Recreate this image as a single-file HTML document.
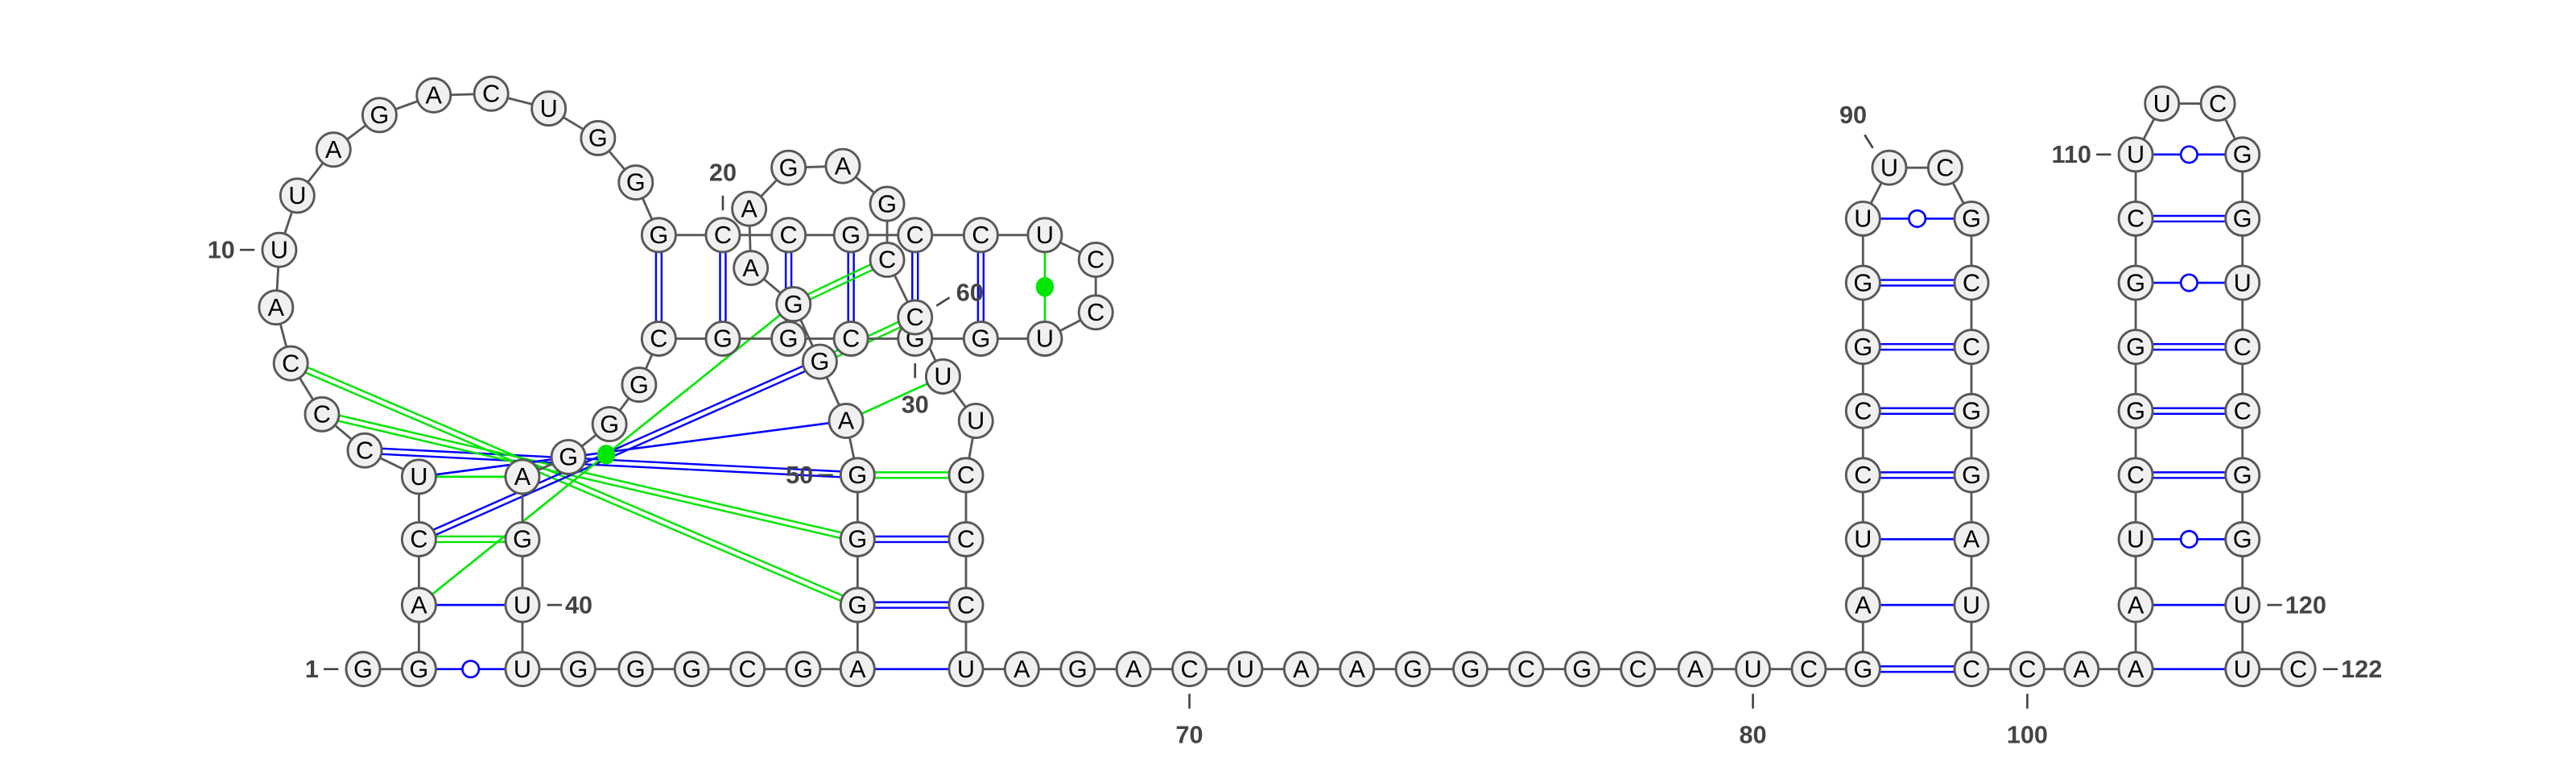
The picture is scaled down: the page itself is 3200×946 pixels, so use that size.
<!DOCTYPE html>
<html><head><meta charset="utf-8"><style>
html,body{margin:0;padding:0;background:#fff;}
svg{display:block;}
text{font-family:"Liberation Sans",sans-serif;}
</style></head><body>
<svg id="chart" width="3200" height="946" viewBox="0 0 1568 463.5" preserveAspectRatio="none" xmlns="http://www.w3.org/2000/svg">
<g id="pairs"></g>
<g id="backbone"></g>
<g id="symbols"></g>
<g id="nts"></g>
<g id="labels"></g>
</svg>
<script>
const seq = ["G","G","A","C","U","C","C","C","A","U",
 "U","A","G","A","C","U","G","G","G","C",
 "C","G","C","C","U","C","C","U","G","G",
 "C","G","G","C","G","G","G","A","G","U",
 "U","G","G","G","C","G","A","G","G","G",
 "A","G","G","A","A","G","A","G","C","C",
 "U","U","C","C","C","U","A","G","A","C",
 "U","A","A","G","G","C","G","C","A","U",
 "C","G","A","U","C","C","G","G","U","U",
 "C","G","C","C","G","G","A","U","C","C",
 "A","A","A","U","C","G","G","G","C","U",
 "U","C","G","G","U","C","C","G","G","U",
 "U","C"];
const xs = [221,255,255,255,255,222,196,177,168,170,181,203,231,264,299,334,364,387,401,440,480,518,557,597,636,667,667,636,597,557,518,480,440,401,389,371,346,318,318,318,318,352,387,421,455,489,522,522,522,522,515,499,483,457,456,480,513,540,540,557,574,594,588,588,588,588,622,656,690,724,758,792,826,860,895,929,963,997,1032,1067,1101,1134,1134,1134,1134,1134,1134,1134,1134,1150,1184,1200,1200,1200,1200,1200,1200,1200,1200,1234,1267,1300,1300,1300,1300,1300,1300,1300,1300,1300,1316,1350,1365,1365,1365,1365,1365,1365,1365,1365,1365,1399];
const ys = [407,407,368,328,290,274,252,221,187,152,119,91,70,58,57,66,84,111,143,143,143,143,143,143,143,158,190,206,206,206,206,206,206,206,234,258,278,290,328,368,407,407,407,407,407,407,407,368,328,289,256,220,185,163,127,102,101,124,158,193,229,256,289,328,368,407,407,407,407,407,407,407,407,407,407,407,407,407,407,407,407,407,368,328,289,250,211,172,133,102,102,133,172,211,250,289,328,368,407,407,407,407,368,328,289,250,211,172,133,94,63,63,94,133,172,211,250,289,328,368,407,407];
const pairI = [82,83,84,85,86,87,88,89, 102,103,104,105,106,107,108,109,110, 2,3,4,5,47,48,49,50, 19,20,21,22,23,24,25, 6,7,8,4,5,3,51,53,52];
const pairJ = [99,98,97,96,95,94,93,92, 121,120,119,118,117,116,115,114,113, 41,40,39,38,66,65,64,63, 34,33,32,31,30,29,28, 50,49,48,52,51,53,61,59,60];
const pairC = ["b","b","b","b","b","b","b","b", "b","b","b","b","b","b","b","b","b", "b","b","g","g","b","b","b","g", "b","b","b","b","b","b","g", "b","g","g","b","b","g","g","g","g"];
const pairT = ["2","1","1","2","2","2","2","o", "1","1","o","2","2","2","o","2","o", "o","1","2","1","1","2","2","2", "2","2","2","2","2","2","d", "2","2","2","2","1","d","1","2","2"];
const labelNums = [1,10,20,30,40,50,60,70,80,90,100,110,120,122];
const labelDir = ["l","l","u","d","r","l","ur","d","d","ul","d","l","r","r"];

const NS="http://www.w3.org/2000/svg";
const R=10.3;
function mk(tag,attrs,parent){const e=document.createElementNS(NS,tag);for(const k in attrs)e.setAttribute(k,attrs[k]);parent.appendChild(e);return e;}
const gP=document.getElementById('pairs'),gB=document.getElementById('backbone'),gS=document.getElementById('symbols'),gN=document.getElementById('nts'),gL=document.getElementById('labels');
const col={b:"#0000ff",g:"#00e600"};
for(let k=0;k<pairI.length;k++){
  const a=pairI[k]-1,b=pairJ[k]-1;
  const x1=xs[a],y1=ys[a],x2=xs[b],y2=ys[b];
  const dx=x2-x1,dy=y2-y1,L=Math.hypot(dx,dy),nx=-dy/L,ny=dx/L;
  const c=col[pairC[k]];
  if(pairT[k]==="2"){
    for(const s of [-1.7,1.7]){
      const l=mk('line',{x1:x1+nx*s,y1:y1+ny*s,x2:x2+nx*s,y2:y2+ny*s,stroke:c,'stroke-width':1.2},gP);
      
      
    }
  } else {
    const l=mk('line',{x1:x1,y1:y1,x2:x2,y2:y2,stroke:c,'stroke-width':1.3},gP);
    
    
    const mx=(x1+x2)/2,my=(y1+y2)/2;
    if(pairT[k]==="o"){
      const s=mk('circle',{cx:mx,cy:my,r:5,fill:"#fff",stroke:c,'stroke-width':1.3},gS);
      
      
    } else if(pairT[k]==="d"){
      const s=mk('ellipse',{cx:mx,cy:my,rx:5.5,ry:6,fill:c},gS);
      
      
    }
  }
}
for(let i=0;i<seq.length-1;i++){
  const l=mk('line',{x1:xs[i],y1:ys[i],x2:xs[i+1],y2:ys[i+1],stroke:"#585858",'stroke-width':1.4},gB);
  
  
}
for(let i=0;i<seq.length;i++){
  const g=mk('g',{},gN);
  
  
  mk('circle',{cx:xs[i],cy:ys[i],r:R,fill:"#f0f0f0",stroke:"#585858",'stroke-width':1.4},g);
  const t=mk('text',{x:xs[i],y:ys[i]+5,'text-anchor':'middle','font-size':15,fill:"#000"},g);
  t.textContent=seq[i];
}
for(let k=0;k<labelNums.length;k++){
  const i=labelNums[k]-1,x=xs[i],y=ys[i],d=labelDir[k];
  let t1,t2,tx,ty,anc;
  if(d==="l"){t1=[x-24,y];t2=[x-15,y];tx=x-27;ty=y+5;anc="end";}
  else if(d==="r"){t1=[x+15,y];t2=[x+24,y];tx=x+26;ty=y+5;anc="start";}
  else if(d==="u"){t1=[x,y-15];t2=[x,y-24];tx=x;ty=y-33;anc="middle";}
  else if(d==="d"){t1=[x,y+15];t2=[x,y+24];tx=x;ty=y+45;anc="middle";}
  else if(d==="ur"){t1=[x+13,y-7];t2=[x+21,y-12];tx=x+25;ty=y-10;anc="start";}
  else {t1=[x-10,y-12];t2=[x-15,y-20];tx=x-22;ty=y-27;anc="middle";}
  const l=mk('line',{x1:t1[0],y1:t1[1],x2:t2[0],y2:t2[1],stroke:"#444",'stroke-width':1.3},gL);
  
  
  const t=mk('text',{x:tx,y:ty,'text-anchor':anc,'font-size':15,'font-weight':'bold',fill:"#444"},gL);
  
  
  t.textContent=labelNums[k];
}
</script>
</body></html>
